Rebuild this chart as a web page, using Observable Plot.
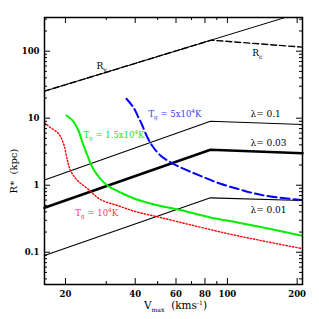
<!DOCTYPE html>
<html><head><meta charset="utf-8">
<script src="https://cdn.jsdelivr.net/npm/d3@7"></script>
<script src="https://cdn.jsdelivr.net/npm/@observablehq/plot@0.6"></script>
<style>body{margin:0;background:#fff}</style>
</head><body><div id="chart"></div>
<script>
// ---- data ----
const xMajorTicks = [20, 40, 60, 80, 100, 200];
const xMinorTicks = [30, 50, 70, 90];
const yMajorTicks = [0.1, 1, 10, 100];
const yMinorTicks = [0.04,0.05,0.06,0.07,0.08,0.09,0.2,0.3,0.4,0.5,0.6,0.7,0.8,0.9,2,3,4,5,6,7,8,9,20,30,40,50,60,70,80,90,200,300];

// lambda lines (spin parameter)
const lambdaV = [16.24, 84.5, 210.9];
const lambda01R = [1.20, 9.02, 8.05];
const lambda003R = [0.460, 3.38, 3.00];
const lambda001R = [0.0893, 0.649, 0.591];

// virial and cooling radii
const rvV = [16.24, 85, 210.9];
const rvR = [25.3, 146, 382];
const rcV = [16.24, 85, 210.9];
const rcR = [25.3, 146, 114.8];

// T_g = 10^4 K (red dotted)
const t1V = [16.24, 17.21, 18.66, 19.61, 20.40, 21.02, 22.54, 24.88, 28.31, 33.53, 40.09, 51.4, 71.4, 100, 138.9, 210.9];
const t1R = [8.63, 7.26, 5.91, 4.19, 2.34, 1.66, 1.175, 0.893, 0.612, 0.498, 0.405, 0.330, 0.250, 0.190, 0.150, 0.113];
// T_g = 1.5x10^4 K (green)
const t15V = [20.20, 21.44, 22.76, 23.68, 24.88, 26.15, 28.03, 30.35, 34.55, 40.09, 46.53, 54.03, 62.7, 84.5, 110.5, 153.4, 210.9];
const t15R = [10.97, 9.25, 6.55, 4.34, 2.77, 1.84, 1.30, 0.99, 0.778, 0.622, 0.533, 0.473, 0.427, 0.330, 0.278, 0.222, 0.175];
// T_g = 5x10^4 K (blue dashed)
const t5V = [36.67, 39.31, 41.32, 42.57, 45.18, 47.96, 51.4, 56.8, 67.2, 78.8, 93.3, 110.5, 129.5, 153.4, 210.9];
const t5R = [19.48, 14.45, 10.24, 8.34, 5.15, 3.65, 2.78, 2.20, 1.66, 1.32, 1.05, 0.884, 0.760, 0.678, 0.601];

// in-plot labels
const labelText = ["R_{v}", "R_{c}", "λ= 0.1", "λ= 0.03", "λ= 0.01", "T_{g} = 5x10^{4}K", "T_{g} = 1.5x10^{4}K", "T_{g} = 10^{4}K"];
const labelV = [27.2, 127.9, 125.7, 125.7, 125.7, 45.6, 23.9, 22.06];
const labelR = [59.1, 92.4, 11.36, 4.19, 0.419, 11.55, 5.65, 0.382];
const labelColor = ["#000", "#000", "#000", "#000", "#000", "#3a3aff", "#1fdc1f", "#ff3a3a"];
const labelSize = [9, 9, 9, 9, 9, 8.5, 8.5, 8.5];

const xTitle = "V_{max}  (kms^{-1})";
const yTitle = "R*  (kpc)";

// ---- build tables ----
const rows = (vs, rs) => vs.map((v, i) => ({v, r: rs[i]}));
const labels = labelText.map((t, i) => ({t, v: labelV[i], r: labelR[i], c: labelColor[i], s: labelSize[i]}));

const W = 319, H = 319, mL = 44, mR = 17, mT = 17, mB = 35;
const plotW = W - mL - mR, plotH = H - mT - mB;

const chart = Plot.plot({
  width: W, height: H,
  marginLeft: mL, marginRight: mR, marginTop: mT, marginBottom: mB,
  style: {fontFamily: "'DejaVu Serif', serif", fontSize: "9px", background: "white", color: "black"},
  x: {type: "log", domain: [16.24, 210.9]},
  y: {type: "log", domain: [0.033, 318]},
  marks: [
    // data lines
    Plot.line(rows(rvV, rvR), {x: "v", y: "r", stroke: "black", strokeWidth: 1, clip: true}),
    Plot.line(rows(rcV, rcR), {x: "v", y: "r", stroke: "black", strokeWidth: 1.4, strokeDasharray: "6,3", clip: true}),
    Plot.line(rows(lambdaV, lambda01R), {x: "v", y: "r", stroke: "black", strokeWidth: 1.1}),
    Plot.line(rows(lambdaV, lambda003R), {x: "v", y: "r", stroke: "black", strokeWidth: 2.6}),
    Plot.line(rows(lambdaV, lambda001R), {x: "v", y: "r", stroke: "black", strokeWidth: 1.2}),
    Plot.line(rows(t1V, t1R), {x: "v", y: "r", stroke: "#ff0000", strokeWidth: 1.4, strokeDasharray: "1.3,2", curve: "catmull-rom", clip: true}),
    Plot.line(rows(t15V, t15R), {x: "v", y: "r", stroke: "#00ee00", strokeWidth: 2, curve: "catmull-rom", clip: true}),
    Plot.line(rows(t5V, t5R), {x: "v", y: "r", stroke: "#0000ff", strokeWidth: 2, strokeDasharray: "9,4", curve: "catmull-rom", clip: true}),
    // labels
    Plot.text(labels, {x: "v", y: "r", text: "t", fill: "c", fontSize: "s", textAnchor: "start"}),
    // inward ticks, bottom/top
    Plot.tickX(xMajorTicks, {x: d => d, insetTop: plotH - 6, strokeWidth: 1}),
    Plot.tickX(xMajorTicks, {x: d => d, insetBottom: plotH - 6, strokeWidth: 1}),
    Plot.tickX(xMinorTicks, {x: d => d, insetTop: plotH - 3, strokeWidth: 1}),
    Plot.tickX(xMinorTicks, {x: d => d, insetBottom: plotH - 3, strokeWidth: 1}),
    // inward ticks, left/right
    Plot.tickY(yMajorTicks, {y: d => d, insetRight: plotW - 6, strokeWidth: 1}),
    Plot.tickY(yMajorTicks, {y: d => d, insetLeft: plotW - 6, strokeWidth: 1}),
    Plot.tickY(yMinorTicks, {y: d => d, insetRight: plotW - 3, strokeWidth: 1}),
    Plot.tickY(yMinorTicks, {y: d => d, insetLeft: plotW - 3, strokeWidth: 1}),
    // tick labels
    Plot.axisX({ticks: xMajorTicks, tickSize: 0, tickPadding: 6, tickFormat: d => String(d), label: null, fontSize: 8.5, fontWeight: "bold"}),
    Plot.axisY({ticks: yMajorTicks, tickSize: 0, tickPadding: 5, tickFormat: d => String(d), label: null, fontSize: 8.5, fontWeight: "bold"}),
    // axis titles
    Plot.text([xTitle], {text: d => d, frameAnchor: "bottom", textAnchor: "middle", lineAnchor: "middle", dy: 21, dx: 2, fontSize: 10.5}),
    Plot.text([yTitle], {text: d => d, frameAnchor: "left", textAnchor: "middle", lineAnchor: "middle", dx: -31, dy: 20, rotate: -90, fontSize: 10}),
    Plot.frame({stroke: "black", strokeWidth: 1.5})
  ]
});

// render subscripts / superscripts as tspans
d3.select(chart).selectAll("text").each(function () {
  const s = this.textContent;
  if (!/[_^]\{/.test(s)) return;
  const fs = parseFloat(this.getAttribute("font-size")) || 9;
  const parts = s.split(/([_^]\{[^}]*\})/).filter(p => p.length);
  this.textContent = "";
  let off = 0;
  for (const p of parts) {
    const m = p.match(/^([_^])\{(.*)\}$/);
    const ts = document.createElementNS("http://www.w3.org/2000/svg", "tspan");
    if (m) {
      const target = m[1] === "_" ? 0.3 * fs : -0.42 * fs;
      ts.setAttribute("dy", target - off);
      ts.setAttribute("font-size", (0.68 * fs).toFixed(2));
      off = target;
      ts.textContent = m[2];
    } else {
      ts.setAttribute("dy", -off);
      off = 0;
      ts.textContent = p;
    }
    this.appendChild(ts);
  }
});

document.getElementById("chart").appendChild(chart);
</script>
</body></html>
